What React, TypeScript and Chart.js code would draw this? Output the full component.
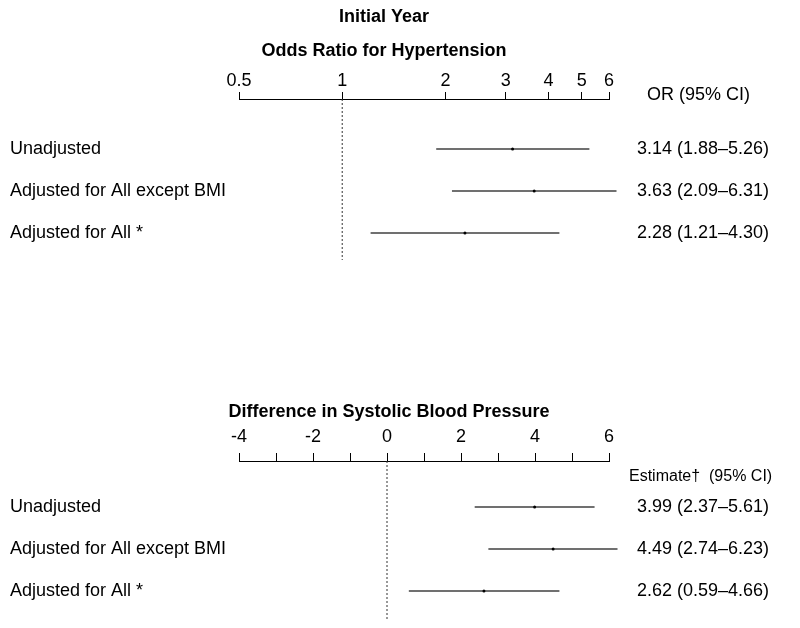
import React, { useEffect, useRef } from 'react';
import { Chart, registerables } from 'chart.js';

Chart.register(...registerables);

const FONT = "'Liberation Sans', Arial, Helvetica, sans-serif";

// ---- data ----
const ROW_LABELS = ['Unadjusted', 'Adjusted for All except BMI', 'Adjusted for All *'];

const OR_EST = [3.14, 3.63, 2.28];
const OR_LO = [1.88, 2.09, 1.21];
const OR_HI = [5.26, 6.31, 4.3];
const OR_TEXT = ['3.14 (1.88\u20135.26)', '3.63 (2.09\u20136.31)', '2.28 (1.21\u20134.30)'];
const OR_TICKS = [0.5, 1, 2, 3, 4, 5, 6];
const OR_TICK_LABELS = ['0.5', '1', '2', '3', '4', '5', '6'];
const OR_REF = 1;

const SBP_EST = [3.99, 4.49, 2.62];
const SBP_LO = [2.37, 2.74, 0.59];
const SBP_HI = [5.61, 6.23, 4.66];
const SBP_TEXT = ['3.99 (2.37\u20135.61)', '4.49 (2.74\u20136.23)', '2.62 (0.59\u20134.66)'];
const SBP_TICKS = [-4, -3, -2, -1, 0, 1, 2, 3, 4, 5, 6];
const SBP_TICK_LABELS = ['-4', '', '-2', '', '0', '', '2', '', '4', '', '6'];
const SBP_REF = 0;

// row index range shown on the vertical axis (rows 0..2)
const TOP_Y_RANGE = [-1.19, 2.64];
const BOTTOM_Y_RANGE = [-1.095, 2.69];

type TextItem = { text: string; x: number; y: number; bold?: boolean; align: CanvasTextAlign; size?: number };

const textPlugin = {
  id: 'panelText',
  afterDraw(chart: any, _args: any, opts: any) {
    const ctx = chart.ctx;
    for (const t of (opts.items || []) as TextItem[]) {
      ctx.save();
      ctx.font = `${t.bold ? 'bold ' : ''}${t.size || 18}px ${FONT}`;
      ctx.fillStyle = '#000';
      ctx.textAlign = t.align;
      ctx.textBaseline = 'middle';
      ctx.fillText(t.text, t.x, t.y);
      ctx.restore();
    }
  },
};

type PanelSpec = {
  xType: 'logarithmic' | 'linear';
  xTicks: number[];
  xTickLabels: string[];
  tickLength: number;
  tickPad: number;
  yRange: number[];
  est: number[];
  lo: number[];
  hi: number[];
  ref: number;
  rightLabels: string[];
  padTop: number;
  padBottom: number;
  texts: TextItem[];
};

function makeConfig(s: PanelSpec): any {
  const rows = ROW_LABELS.map((_, i) => i);
  const [yMin, yMax] = s.yRange;
  const ciSets = rows.map((i) => ({
    data: [
      { x: s.lo[i], y: i },
      { x: s.hi[i], y: i },
    ],
    showLine: true,
    borderColor: '#707070',
    borderWidth: 2,
    pointRadius: 0,
    clip: false,
    order: 2,
  }));
  const refSet = {
    data: [
      { x: s.ref, y: yMin },
      { x: s.ref, y: yMax },
    ],
    showLine: true,
    borderColor: '#333',
    borderWidth: 1,
    borderDash: [2, 2],
    pointRadius: 0,
    clip: false,
    order: 3,
  };
  const estSet = {
    data: rows.map((i) => ({ x: s.est[i], y: i })),
    showLine: false,
    pointRadius: 1.5,
    pointBackgroundColor: '#000',
    pointBorderWidth: 0,
    clip: false,
    order: 1,
  };
  const rowTicks = (sc: any) => {
    sc.ticks = rows.map((i) => ({ value: i }));
  };
  const noPad = (sc: any) => {
    sc.paddingTop = 0;
    sc.paddingBottom = 0;
  };
  return {
    type: 'scatter',
    data: { datasets: [refSet, ...ciSets, estSet] },
    options: {
      responsive: false,
      animation: false,
      events: [],
      layout: { padding: { left: 10, right: 0, top: s.padTop, bottom: s.padBottom } },
      plugins: {
        legend: { display: false },
        tooltip: { enabled: false },
        title: { display: false },
        panelText: { items: s.texts },
      },
      scales: {
        x: {
          type: s.xType,
          position: 'top',
          min: s.xTicks[0],
          max: s.xTicks[s.xTicks.length - 1],
          afterBuildTicks: (sc: any) => {
            sc.ticks = s.xTicks.map((v) => ({ value: v }));
          },
          afterFit: (sc: any) => {
            sc.height = 60;
            sc.paddingLeft = 0;
            sc.paddingRight = 0;
          },
          grid: {
            display: true,
            drawOnChartArea: false,
            drawTicks: true,
            tickLength: s.tickLength,
            color: '#000',
            lineWidth: 1,
          },
          border: { display: true, color: '#000', width: 1 },
          ticks: {
            padding: s.tickPad,
            color: '#000',
            font: { family: FONT, size: 18 },
            maxRotation: 0,
            autoSkip: false,
            callback: (_v: any, i: number) => s.xTickLabels[i],
          },
        },
        y: {
          type: 'linear',
          position: 'left',
          reverse: true,
          min: yMin,
          max: yMax,
          afterBuildTicks: rowTicks,
          afterFit: (sc: any) => {
            sc.width = 229;
            noPad(sc);
          },
          grid: { display: false, drawTicks: false },
          border: { display: false },
          ticks: {
            crossAlign: 'far',
            padding: 0,
            color: '#000',
            font: { family: FONT, size: 18 },
            autoSkip: false,
            callback: (_v: any, i: number) => ROW_LABELS[i],
          },
        },
        y2: {
          type: 'linear',
          position: 'right',
          reverse: true,
          min: yMin,
          max: yMax,
          afterBuildTicks: rowTicks,
          afterFit: (sc: any) => {
            sc.width = 191;
            noPad(sc);
          },
          grid: { display: false, drawTicks: false },
          border: { display: false },
          ticks: {
            padding: 28,
            color: '#000',
            font: { family: FONT, size: 18 },
            autoSkip: false,
            callback: (_v: any, i: number) => s.rightLabels[i],
          },
        },
      },
    },
    plugins: [textPlugin],
  };
}

const TOP: PanelSpec = {
  xType: 'logarithmic',
  xTicks: OR_TICKS,
  xTickLabels: OR_TICK_LABELS,
  tickLength: 7,
  tickPad: 0,
  yRange: TOP_Y_RANGE,
  est: OR_EST,
  lo: OR_LO,
  hi: OR_HI,
  ref: OR_REF,
  rightLabels: OR_TEXT,
  padTop: 39,
  padBottom: 54,
  texts: [
    { text: 'Initial Year', x: 384, y: 17, bold: true, align: 'center' },
    { text: 'Odds Ratio for Hypertension', x: 384, y: 51, bold: true, align: 'center' },
    { text: 'OR (95% CI)', x: 647, y: 95, align: 'left' },
  ],
};

const BOTTOM: PanelSpec = {
  xType: 'linear',
  xTicks: SBP_TICKS,
  xTickLabels: SBP_TICK_LABELS,
  tickLength: 8,
  tickPad: 5,
  yRange: BOTTOM_Y_RANGE,
  est: SBP_EST,
  lo: SBP_LO,
  hi: SBP_HI,
  ref: SBP_REF,
  rightLabels: SBP_TEXT,
  padTop: 87,
  padBottom: 8,
  texts: [
    { text: 'Difference in Systolic Blood Pressure', x: 389, y: 98, bold: true, align: 'center' },
    { text: 'Estimate\u2020  (95% CI)', x: 629, y: 163, align: 'left', size: 16 },
  ],
};

export default function App() {
  const topRef = useRef<HTMLCanvasElement>(null);
  const botRef = useRef<HTMLCanvasElement>(null);
  useEffect(() => {
    const c1 = new Chart(topRef.current as HTMLCanvasElement, makeConfig(TOP));
    const c2 = new Chart(botRef.current as HTMLCanvasElement, makeConfig(BOTTOM));
    return () => {
      c1.destroy();
      c2.destroy();
    };
  }, []);
  return (
    <div style={{ position: 'absolute', left: 0, top: 0, width: 800, height: 628, background: '#fff', overflow: 'hidden' }}>
      <canvas ref={topRef} width={800} height={314} style={{ position: 'absolute', left: 0, top: 0 }} />
      <canvas ref={botRef} width={800} height={314} style={{ position: 'absolute', left: 0, top: 314 }} />
    </div>
  );
}
